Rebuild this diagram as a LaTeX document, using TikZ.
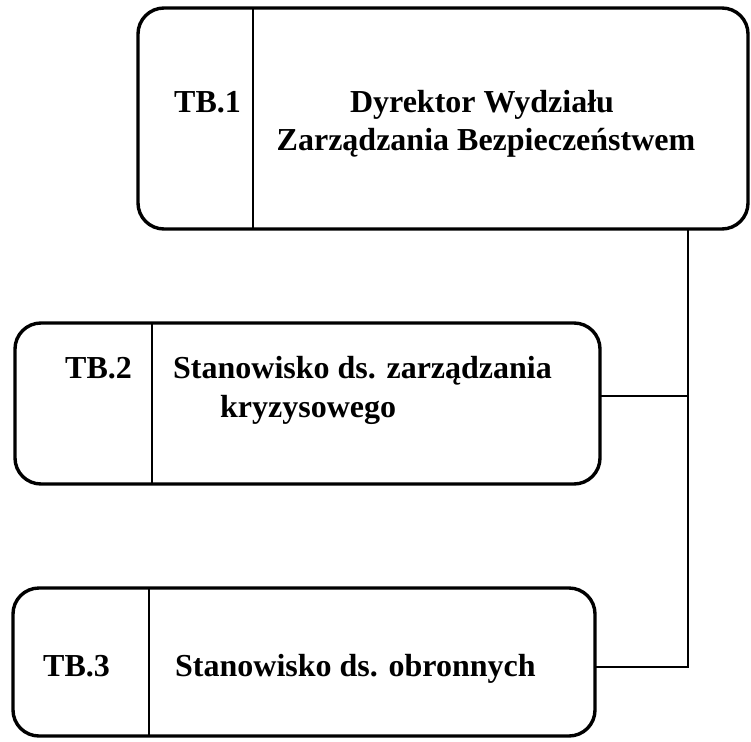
\documentclass[tikz,border=0pt]{standalone}
\usepackage{fontspec}
\setmainfont{Liberation Serif}
\begin{document}
\begin{tikzpicture}[x=1pt,y=-1pt,
  box/.style={draw=black,line width=3.4pt,rounded corners=26pt,inner sep=0pt,outer sep=0pt},
  divline/.style={draw=black,line width=1.6pt},
  conn/.style={draw=black,line width=1.8pt},
  lbl/.style={font=\fontsize{32}{38}\selectfont\bfseries,inner sep=0pt,anchor=base west},
  ttl/.style={font=\fontsize{32}{38}\selectfont\bfseries,inner sep=0pt,anchor=base}]
\fill[white] (0,0) rectangle (751,741);
\useasboundingbox (0,0) rectangle (751,741);
% boxes
\node[box,minimum width=610pt,minimum height=221pt] (b1) at (443,118.5) {};
\node[box,minimum width=585pt,minimum height=161pt] (b2) at (307.5,403.5) {};
\node[box,minimum width=582pt,minimum height=148pt] (b3) at (304,662) {};
% dividers
\coordinate (d1) at (253,0);
\coordinate (d2) at (152,0);
\coordinate (d3) at (149,0);
\draw[divline] (b1.north -| d1) -- (b1.south -| d1);
\draw[divline] (b2.north -| d2) -- (b2.south -| d2);
\draw[divline] (b3.north -| d3) -- (b3.south -| d3);
% texts
\node[lbl] (t1) at (174,112) {TB.1};
\node[ttl] (n1a) at (482,112) {Dyrektor Wydziału};
\node[ttl] (n1b) at (486,150) {Zarządzania Bezpieczeństwem};
\node[lbl] (t2) at (65,378) {TB.2};
\node[lbl] (n2a) at (173,378) {Stanowisko ds. zarządzania};
\node[lbl] (n2b) at (220,417) {kryzysowego};
\node[lbl] (t3) at (43,676) {TB.3};
\node[lbl] (n3) at (175,676) {Stanowisko ds. obronnych};
% connectors
\coordinate (j2) at (688,396);
\coordinate (j3) at (688,667);
\draw[conn] (b1.south -| j2) -- (j3) -- (b3.east |- j3);
\draw[conn] (j2) -- (b2.east |- j2);
\end{tikzpicture}
\end{document}
